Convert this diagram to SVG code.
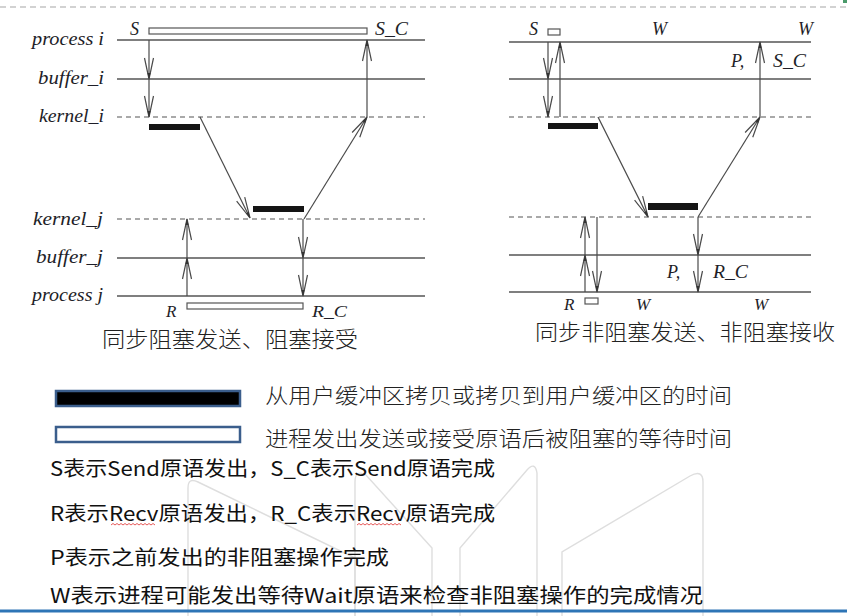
<svg xmlns="http://www.w3.org/2000/svg" width="847" height="616" viewBox="0 0 847 616">
<style>
.ln{stroke:#555;stroke-width:1.3;fill:none}
.dl{stroke:#555;stroke-width:1.2;fill:none;stroke-dasharray:5 4}
.ar{stroke:#4a4a4a;stroke-width:1.2;fill:none;marker-end:url(#ah)}
.lb{font-family:"Liberation Serif","DejaVu Serif",serif;font-style:italic;font-size:18px;fill:#1e1e28}
.sm{font-size:17px}
.cap{font-family:"Noto Sans CJK SC","Noto Sans",sans-serif;font-size:22px;fill:#222;font-weight:300}
.lg{font-family:"Noto Sans CJK SC","Noto Sans",sans-serif;font-size:20px;fill:#111}
.lg2{font-family:"Noto Sans CJK SC","Noto Sans",sans-serif;font-size:21px;fill:#222;font-weight:300}
.wm{stroke:#dedede;stroke-width:1.4;fill:none}
.bar{fill:#151515}
.wb{fill:#fff;stroke:#555;stroke-width:1.2}
</style>
<defs>
<marker id="ah" markerUnits="userSpaceOnUse" markerWidth="24" markerHeight="12" viewBox="-22 -6 24 12" refX="0" refY="0" orient="auto">
<path d="M-21,-4.5 L0,0 L-21,4.5" stroke="#4a4a4a" stroke-width="1.2" fill="none"/>
<path d="M-6,-1.6 L0,0 L-6,1.6 z" fill="#333"/>
</marker>
</defs>
<rect width="847" height="616" fill="#fff"/>
<g id="watermark">
<path class="wm" d="M188,616 V488 Q188,477 198,482 L355,558 V616"/>
<path class="wm" d="M355,616 V482 Q355,469 366,475 L432,548 V616"/>
<path class="wm" d="M460,616 V548 L527,470 Q535,461 537,473 V616"/>
<path class="wm" d="M562,616 V552 L690,476 Q703,469 703,482 V616"/>
</g>
<line x1="0" y1="7" x2="847" y2="7" stroke="#c4c4c4" stroke-width="1.5" stroke-dasharray="6 4"/>
<rect x="843" y="0" width="4" height="3" fill="#4a9a6a"/>
<g id="left-diagram">
<g id="left-lines">
<line class="ln" x1="117" y1="40" x2="425" y2="40"/>
<line class="ln" x1="117" y1="79" x2="425" y2="79"/>
<line class="dl" x1="117" y1="117" x2="425" y2="117"/>
<line class="dl" x1="117" y1="219" x2="425" y2="219"/>
<line class="ln" x1="117" y1="258" x2="425" y2="258"/>
<line class="ln" x1="117" y1="296" x2="425" y2="296"/>
</g>
<g id="left-labels">
<text class="lb" x="104" y="45" text-anchor="end" textLength="72" lengthAdjust="spacingAndGlyphs">process i</text>
<text class="lb" x="104" y="84" text-anchor="end" textLength="66" lengthAdjust="spacingAndGlyphs">buffer_i</text>
<text class="lb" x="104" y="122" text-anchor="end" textLength="65" lengthAdjust="spacingAndGlyphs">kernel_i</text>
<text class="lb" x="103" y="225" text-anchor="end" textLength="70" lengthAdjust="spacingAndGlyphs">kernel_j</text>
<text class="lb" x="103" y="263" text-anchor="end" textLength="67" lengthAdjust="spacingAndGlyphs">buffer_j</text>
<text class="lb" x="103" y="301" text-anchor="end" textLength="71" lengthAdjust="spacingAndGlyphs">process j</text>
<text class="lb" x="130" y="35">S</text>
<text class="lb" x="375" y="35" textLength="33" lengthAdjust="spacingAndGlyphs">S_C</text>
<text class="lb sm" x="166" y="317">R</text>
<text class="lb sm" x="312" y="317" textLength="35" lengthAdjust="spacingAndGlyphs">R_C</text>
</g>
<g id="left-bars">
<rect class="wb" x="149" y="28" width="218" height="6"/>
<rect class="bar" x="149" y="124" width="51" height="6"/>
<rect class="bar" x="253" y="206" width="51" height="6"/>
<rect class="wb" x="187" y="303" width="116" height="6"/>
</g>
<text class="cap" x="102" y="347" textLength="256" lengthAdjust="spacingAndGlyphs">同步阻塞发送、阻塞接受</text>
</g>
<g id="right-diagram">
<g id="right-lines">
<line class="ln" x1="509" y1="42" x2="811" y2="42"/>
<line class="ln" x1="509" y1="79" x2="811" y2="79"/>
<line class="dl" x1="509" y1="117" x2="811" y2="117"/>
<line class="dl" x1="509" y1="217" x2="811" y2="217"/>
<line class="ln" x1="509" y1="255" x2="811" y2="255"/>
<line class="ln" x1="509" y1="292" x2="811" y2="292"/>
</g>
<g id="right-labels">
<text class="lb" x="529" y="35">S</text>
<text class="lb" x="652" y="35">W</text>
<text class="lb" x="798" y="35">W</text>
<text class="lb" x="731" y="67">P,</text>
<text class="lb" x="773" y="67" textLength="33" lengthAdjust="spacingAndGlyphs">S_C</text>
<text class="lb" x="667" y="278">P,</text>
<text class="lb" x="713" y="278" textLength="35" lengthAdjust="spacingAndGlyphs">R_C</text>
<text class="lb sm" x="564" y="310">R</text>
<text class="lb sm" x="636" y="310">W</text>
<text class="lb sm" x="754" y="310">W</text>
</g>
<g id="right-bars">
<rect class="wb" x="548" y="29" width="12" height="6"/>
<rect class="bar" x="548" y="123" width="50" height="6"/>
<rect class="bar" x="648" y="203" width="50" height="7"/>
<rect class="wb" x="585" y="298" width="13" height="6"/>
</g>
<text class="cap" x="535" y="340" textLength="300" lengthAdjust="spacingAndGlyphs">同步非阻塞发送、非阻塞接收</text>
</g>
<g id="connectors">
<path class="ar" d="M149,40 V79"/>
<path class="ar" d="M149,79 V117"/>
<path class="ar" d="M367,117 V40"/>
<path class="ar" d="M200,117 L250,218"/>
<path class="ar" d="M304,219 L367,117"/>
<path class="ar" d="M187,296 V258"/>
<path class="ar" d="M187,258 V219"/>
<path class="ar" d="M303,219 V258"/>
<path class="ar" d="M303,258 V296"/>
<path class="ar" d="M548,42 V79"/>
<path class="ar" d="M548,79 V117"/>
<path class="ar" d="M560,117 V42"/>
<path class="ar" d="M598,117 L648,217"/>
<path class="ar" d="M698,217 L760,117"/>
<path class="ar" d="M760,117 V42"/>
<path class="ar" d="M585,292 V255"/>
<path class="ar" d="M585,255 V217"/>
<path class="ar" d="M597,217 V292"/>
<path class="ar" d="M698,217 V255"/>
<path class="ar" d="M698,255 V292"/>
</g>
<g id="legend">
<rect x="56" y="391" width="184" height="15" fill="#000" stroke="#3b5e8c" stroke-width="2.5"/>
<rect x="56" y="427" width="184" height="15" fill="#fff" stroke="#3b5e8c" stroke-width="2.5"/>
<text class="lg2" x="265" y="403" textLength="467" lengthAdjust="spacingAndGlyphs">从用户缓冲区拷贝或拷贝到用户缓冲区的时间</text>
<text class="lg2" x="265" y="446" textLength="467" lengthAdjust="spacingAndGlyphs">进程发出发送或接受原语后被阻塞的等待时间</text>
<text class="lg" x="50" y="476" textLength="445" lengthAdjust="spacingAndGlyphs">S表示Send原语发出，S_C表示Send原语完成</text>
<text class="lg" x="50" y="521" textLength="445" lengthAdjust="spacingAndGlyphs">R表示Recv原语发出，R_C表示Recv原语完成</text>
<path d="M111,525 l2,-1.5 l2,1.5 l2,-1.5 l2,1.5 l2,-1.5 l2,1.5 l2,-1.5 l2,1.5 l2,-1.5 l2,1.5 l2,-1.5 l2,1.5 l2,-1.5 l2,1.5 l2,-1.5 l2,1.5 l2,-1.5 l2,1.5 l2,-1.5 l2,1.5 l2,-1.5 l2,1.5" stroke="#e03030" stroke-width="0.8" fill="none"/>
<path d="M357,525 l2,-1.5 l2,1.5 l2,-1.5 l2,1.5 l2,-1.5 l2,1.5 l2,-1.5 l2,1.5 l2,-1.5 l2,1.5 l2,-1.5 l2,1.5 l2,-1.5 l2,1.5 l2,-1.5 l2,1.5 l2,-1.5 l2,1.5 l2,-1.5 l2,1.5 l2,-1.5 l2,1.5" stroke="#e03030" stroke-width="0.8" fill="none"/>
<text class="lg" x="50" y="565" textLength="339" lengthAdjust="spacingAndGlyphs">P表示之前发出的非阻塞操作完成</text>
<text class="lg" x="50" y="603" textLength="653" lengthAdjust="spacingAndGlyphs">W表示进程可能发出等待Wait原语来检查非阻塞操作的完成情况</text>
</g>
<line x1="0" y1="611" x2="847" y2="611" stroke="#2e75b6" stroke-width="3"/>
</svg>
